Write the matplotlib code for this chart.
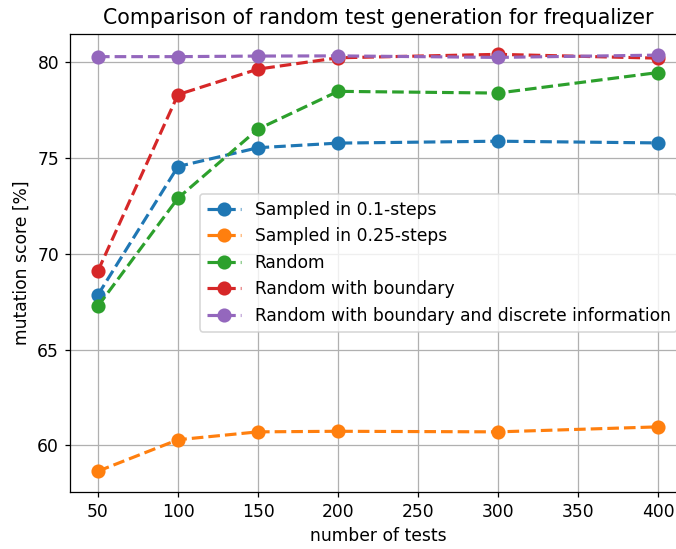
import numpy as np
from matplotlib import pyplot as plt

n_tests = [50, 100, 150, 200, 300, 400]
sampled_01 = [67.86, 74.55, 75.53, 75.77, 75.87, 75.78]
sampled_025 = [58.66, 60.30, 60.71, 60.74, 60.71, 60.97]
random_plain = [67.27, 72.90, 76.50, 78.47, 78.38, 79.45]
random_boundary = [69.11, 78.30, 79.63, 80.22, 80.40, 80.20]
random_discrete = [80.28, 80.28, 80.31, 80.32, 80.24, 80.36]

labels = ['Sampled in 0.1-steps', 'Sampled in 0.25-steps', 'Random',
          'Random with boundary', 'Random with boundary and discrete information']
series = [sampled_01, sampled_025, random_plain, random_boundary, random_discrete]

plt.rcParams['font.size'] = 10.9
plt.rcParams['axes.titlesize'] = 13.1

fig = plt.figure(figsize=(676 / 113, 549 / 113), dpi=113)
ax = fig.add_axes([70 / 676, 57 / 549, 616 / 676, 458.5 / 549])

for vals, lab in zip(series, labels):
    ax.plot(n_tests, vals, '--o', linewidth=2, markersize=8, label=lab)

ax.set_title('Comparison of random test generation for frequalizer')
ax.set_xlabel('number of tests')
ax.set_ylabel('mutation score [%]')
ax.set_xticks(np.arange(50, 401, 50))
ax.grid(True)
ax.legend(loc='center right')

fig.savefig('out.png', dpi=113)
